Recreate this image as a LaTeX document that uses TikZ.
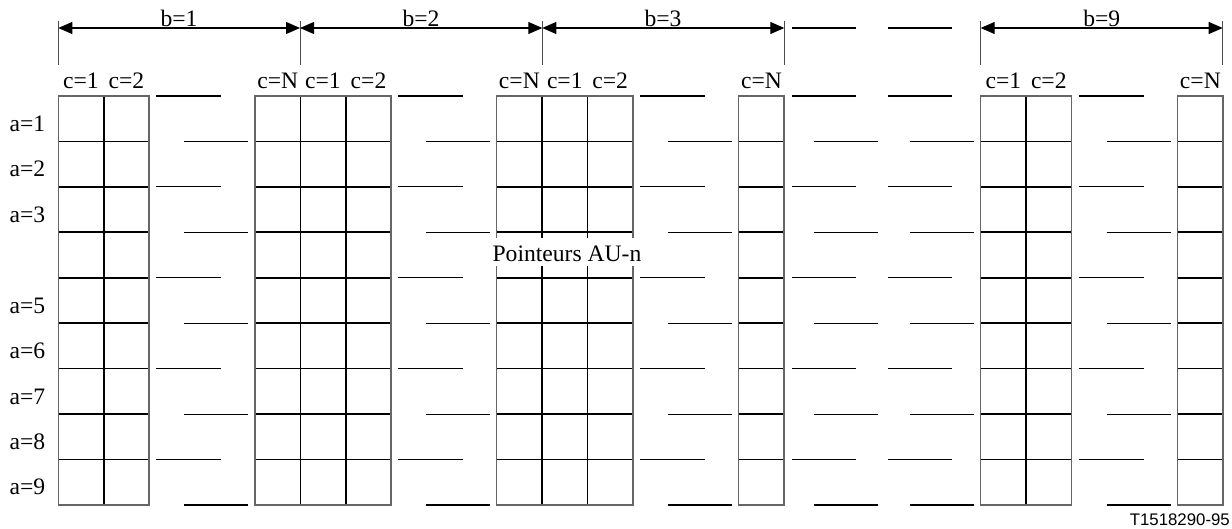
\documentclass[tikz,border=0pt]{standalone}
\usepackage{fontspec}
\setmainfont{Liberation Serif}
\newfontfamily\arialfont{Liberation Sans}
\usetikzlibrary{arrows.meta}
\begin{document}
\begin{tikzpicture}[x=1pt,y=-1pt,
  gridline/.style={line width=1.7pt,black},
  border/.style={line width=1.5pt,black!60},
  dashseg/.style={line width=1.1pt,black},
  tickline/.style={line width=1pt,black!70},
  dimline/.style={line width=1.1pt,black,{Triangle[length=14pt,width=12pt]}-{Triangle[length=14pt,width=12pt]}},
  lab/.style={font=\fontsize{23.6}{25}\selectfont,inner sep=0pt,anchor=base},
]
\useasboundingbox (0,0) rectangle (1232,529);
% grids
\foreach \x/\n in {58.3/2,255/3,496.7/3,738.7/1,980.7/2,1177.7/1} {
  \foreach \r in {1,...,8}
    \draw[gridline] ({\x},{96+\r*45.44}) -- ++({\n*45.4},0);
  \ifnum\n>1
    \foreach \c in {2,...,\n}
      \draw[gridline] ({\x+(\c-1)*45.4},96) -- ++(0,408.96);
  \fi
  \draw[border] ({\x},96) rectangle ++({\n*45.4},408.96);
}
% gap segments
\foreach \R in {149.1,391.2,632.9,1071.5} {
  \foreach \j in {0,2,4,6,8}
    \draw[dashseg] ({\R+7},{96+\j*45.44}) -- ({\R+72},{96+\j*45.44});
  \foreach \j in {1,3,5,7,9}
    \draw[dashseg] ({\R+35},{96+\j*45.44}) -- ({\R+99},{96+\j*45.44});
}
\foreach \j in {0,2,4,6,8} {
  \draw[dashseg] (792,{96+\j*45.44}) -- (856,{96+\j*45.44});
  \draw[dashseg] (888,{96+\j*45.44}) -- (952,{96+\j*45.44});
}
\foreach \j in {1,3,5,7,9} {
  \draw[dashseg] (814,{96+\j*45.44}) -- (878,{96+\j*45.44});
  \draw[dashseg] (910,{96+\j*45.44}) -- (974,{96+\j*45.44});
}
% top dashes after b=3
\draw[dashseg] (792,28) -- (856,28);
\draw[dashseg] (888,28) -- (952,28);
% ticks and dimension arrows
\foreach \t/\xx in {t0/58.3,t1/300,t2/542.3,t3/784.3,t4/980.7,t5/1222.7} {
  \coordinate (\t) at (\xx,28);
  \draw[tickline] (\xx,21) -- (\xx,65);
}
\draw[dimline] (t0) -- (t1);
\draw[dimline] (t1) -- (t2);
\draw[dimline] (t2) -- (t3);
\draw[dimline] (t4) -- (t5);
\node[lab] (b1) at (179,26.5) {b=1};
\node[lab] (b2) at (421,26.5) {b=2};
\node[lab] (b3) at (663,26.5) {b=3};
\node[lab] (b9) at (1101.7,26.5) {b=9};
% column labels
\foreach \xx/\txt [count=\k] in {81/c=1,126.5/c=2,277.7/c=N,323/c=1,368.5/c=2,519.4/c=N,564.8/c=1,610.2/c=2,761.5/c=N,1003.4/c=1,1048.8/c=2,1200.4/c=N}
  \node[lab] (c\k) at (\xx,89) {\txt};
% row labels
\foreach \r in {1,2,3,5,6,7,8,9}
  \node[lab,anchor=base west] (a\r) at (9.5,{96+(\r-0.5)*45.44+12.7}) {a=\r};
% pointer label
\node[lab,fill=white,text height=24pt,text depth=4.5pt,inner xsep=1pt] (ptr) at (567,261.7) {Pointeurs AU-n};
\node[font=\arialfont\fontsize{16.8}{18}\selectfont,anchor=base east,inner sep=0pt] (ref) at (1230,525) {T1518290-95};
\end{tikzpicture}
\end{document}
